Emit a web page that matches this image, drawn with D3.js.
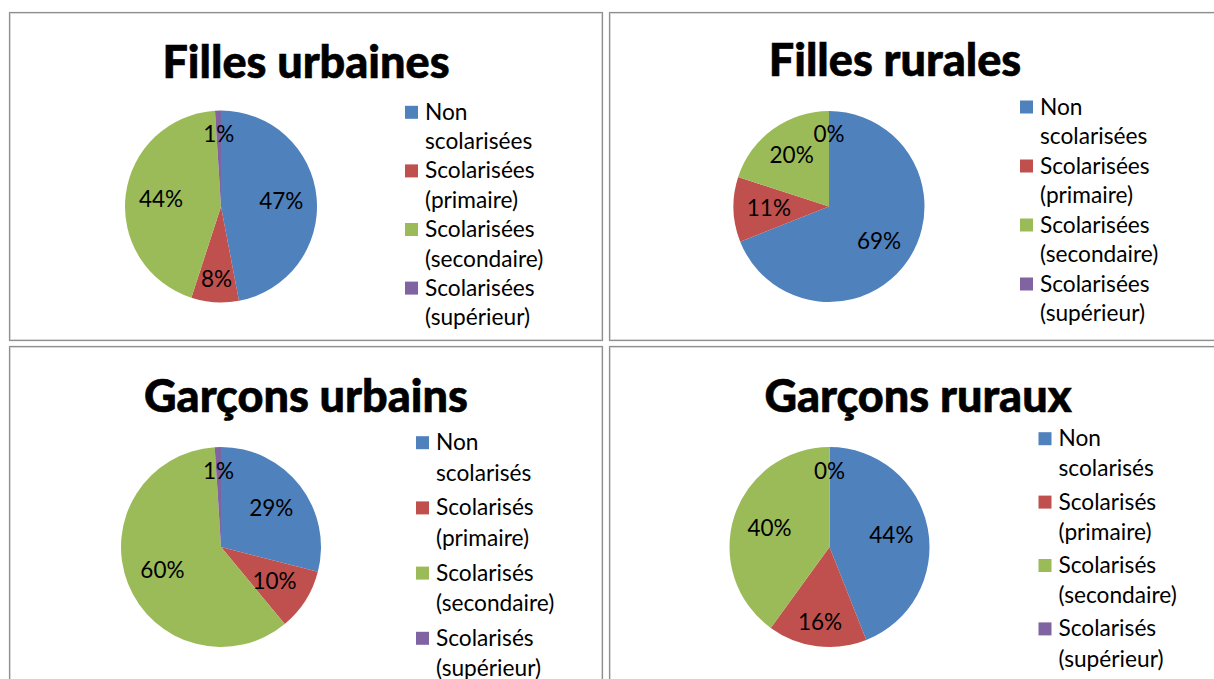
<!DOCTYPE html>
<html>
<head>
<meta charset="utf-8">
<script src="https://cdn.jsdelivr.net/npm/d3@7"></script>
<style>
  body { margin: 0; background: #fff; }
  text { font-family: Lato, "Open Sans", sans-serif; fill: #000; }
</style>
</head>
<body>
<div id="chart"></div>
<script>
// chart data
var titles = ["Filles urbaines", "Filles rurales", "Garçons urbains", "Garçons ruraux"];
var fillesLabels = [["Non", "scolarisées"], ["Scolarisées", "(primaire)"], ["Scolarisées", "(secondaire)"], ["Scolarisées", "(supérieur)"]];
var garconsLabels = [["Non", "scolarisés"], ["Scolarisés", "(primaire)"], ["Scolarisés", "(secondaire)"], ["Scolarisés", "(supérieur)"]];
var fillesUrbaines = [47, 8, 44, 1];
var fillesRurales = [69, 11, 20, 0];
var garconsUrbains = [29, 10, 60, 1];
var garconsRuraux = [44, 16, 40, 0];
var colors = ["#4F81BD", "#C0504D", "#9BBB59", "#8064A2"];

var svgWidth = 1214;
var svgHeight = 679;

// layout of each panel (box, pie, title, legend)
var panels = [
    {values: fillesUrbaines, labels: fillesLabels, box: [9.5, 12.5, 593, 328], cx: 221, cy: 206.5, r: 96,
     tx: 306, ty: 78, lx: 405, ly: 112.3, step: 58.6, line: 29.6},
    {values: fillesRurales, labels: fillesLabels, box: [609.5, 12.5, 620, 328], cx: 829, cy: 206.5, r: 95.5,
     tx: 895, ty: 76, lx: 1020, ly: 107, step: 59, line: 29.6},
    {values: garconsUrbains, labels: garconsLabels, box: [9.5, 346.5, 593, 350], cx: 221, cy: 547, r: 100,
     tx: 306, ty: 411.7, lx: 416, ly: 442.7, step: 65.2, line: 30.5},
    {values: garconsRuraux, labels: garconsLabels, box: [609.5, 346.5, 620, 350], cx: 829.5, cy: 547, r: 100,
     tx: 918, ty: 411.7, lx: 1038.5, ly: 438.7, step: 63.4, line: 30.2}
];

var svg = d3.select("#chart")
    .append("svg")
    .attr("width", svgWidth)
    .attr("height", svgHeight);

svg.append("rect")
    .attr("width", svgWidth)
    .attr("height", svgHeight)
    .attr("fill", "#fff");

var pie = d3.pie().sort(null).value(d => d);

panels.forEach(function(p, i) {
    var g = svg.append("g");

    // panel frame
    g.append("rect")
        .attr("x", p.box[0] + 1)
        .attr("y", p.box[1] + 1)
        .attr("width", p.box[2] - 2)
        .attr("height", p.box[3] - 2)
        .attr("fill", "none")
        .attr("stroke", "#e0e0e0")
        .attr("stroke-width", 1);
    g.append("rect")
        .attr("x", p.box[0])
        .attr("y", p.box[1])
        .attr("width", p.box[2])
        .attr("height", p.box[3])
        .attr("fill", "none")
        .attr("stroke", "#8f8f8f")
        .attr("stroke-width", 1.2);

    // title
    g.append("text")
        .attr("x", p.tx)
        .attr("y", p.ty)
        .attr("text-anchor", "middle")
        .attr("font-size", "45px")
        .attr("font-weight", "900")
        .attr("stroke", "#000")
        .attr("stroke-width", 0.6)
        .text(titles[i]);

    // pie slices
    var arc = d3.arc().innerRadius(0).outerRadius(p.r);
    var pieGroup = g.append("g")
        .attr("transform", `translate(${p.cx}, ${p.cy})`);
    var arcs = pie(p.values);

    pieGroup.selectAll("path")
        .data(arcs)
        .enter()
        .append("path")
        .attr("d", arc)
        .attr("fill", (d, j) => colors[j]);

    // data labels, pushed out near the vertical axis like excel does
    pieGroup.selectAll("text")
        .data(arcs)
        .enter()
        .append("text")
        .attr("transform", function(d) {
            var mid = (d.startAngle + d.endAngle) / 2;
            var lr = p.r * (0.63 + 0.13 * Math.pow(Math.abs(Math.cos(mid)), 6));
            var c = d3.arc().innerRadius(lr).outerRadius(lr).centroid(d);
            return `translate(${c[0]}, ${c[1]})`;
        })
        .attr("dy", "0.36em")
        .attr("text-anchor", "middle")
        .attr("font-size", "22.5px")
        .text(d => d.data + "%");

    // legend
    var legend = g.selectAll(".legend")
        .data(p.labels)
        .enter()
        .append("g")
        .attr("transform", (d, j) => `translate(${p.lx}, ${p.ly + j * p.step})`);

    legend.append("rect")
        .attr("x", 0)
        .attr("y", -6.5)
        .attr("width", 13)
        .attr("height", 13)
        .attr("fill", (d, j) => colors[j]);

    var lt = legend.append("text")
        .attr("x", 20)
        .attr("y", 7.5)
        .attr("font-size", "22.7px");
    lt.append("tspan")
        .attr("x", 20)
        .text(d => d[0]);
    lt.append("tspan")
        .attr("x", 20)
        .attr("dy", p.line)
        .text(d => d[1]);
});
</script>
</body>
</html>
